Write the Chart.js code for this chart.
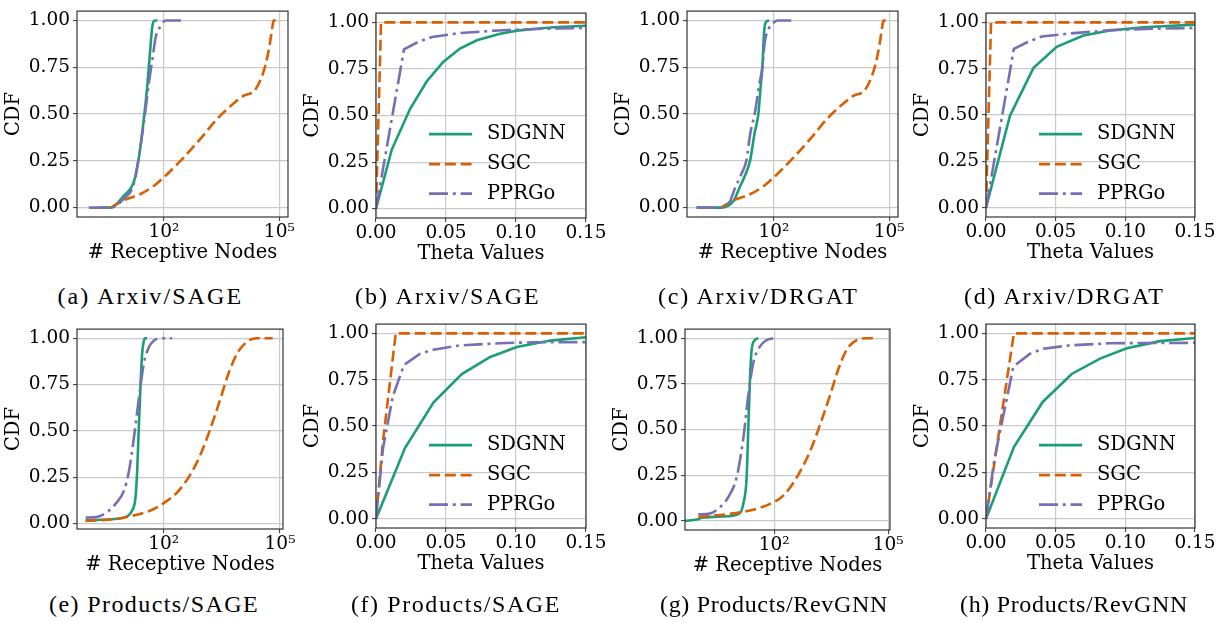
<!DOCTYPE html>
<html><head><meta charset="utf-8">
<script src="https://cdn.jsdelivr.net/npm/chart.js@4.4.1/dist/chart.umd.min.js"></script>
<style>
html,body{margin:0;padding:0;background:#fff;width:1219px;height:622px;overflow:hidden;}
.pc{position:absolute;}
.cap{position:absolute;font-family:"Liberation Serif",serif;font-size:24px;line-height:24px;white-space:nowrap;color:#000;}
</style></head><body>
<script>
// ---------- series names ----------
const seriesNames = ['SDGNN', 'SGC', 'PPRGo'];
const yTickValues = [0, 0.25, 0.5, 0.75, 1.0];
const logTickValues = [100, 100000];
const logTickLabels = ['10\u00B2', '10\u2075'];
const thetaTickValues = [0, 0.05, 0.10, 0.15];
const captions = ['(a) Arxiv/SAGE', '(b) Arxiv/SAGE', '(c) Arxiv/DRGAT', '(d) Arxiv/DRGAT',
                  '(e) Products/SAGE', '(f) Products/SAGE', '(g) Products/RevGNN', '(h) Products/RevGNN'];

// ---------- (a) Arxiv/SAGE : # receptive nodes ----------
const aSdgnnX = [2.0, 4.1, 9.1, 16.5, 22.3, 30.1, 36.7, 43.2, 49.7, 57.1, 67.0];
const aSdgnnY = [0, 0, 0.065, 0.14, 0.27, 0.48, 0.65, 0.83, 0.97, 1.0, 1.0];
const aSgcX = [4.1, 9.1, 24.5, 55, 122, 331, 906, 2455, 6761, 12300, 22400, 40700, 55000, 67600, 70800, 107000];
const aSgcY = [0, 0.04, 0.073, 0.117, 0.18, 0.27, 0.37, 0.476, 0.56, 0.6, 0.624, 0.74, 0.86, 0.98, 1.0, 1.0];
const aPprX = [1.1, 4.1, 9.1, 16.5, 30.1, 40.6, 49.7, 60.7, 81.8, 110, 331];
const aPprY = [0, 0, 0.05, 0.13, 0.46, 0.67, 0.79, 0.91, 0.97, 1.0, 1.0];

// ---------- (b) Arxiv/SAGE : theta ----------
const bSdgnnX = [0, 0.0112, 0.0243, 0.0363, 0.0482, 0.060, 0.072, 0.0887, 0.1006, 0.1126, 0.127, 0.15];
const bSdgnnY = [0, 0.316, 0.535, 0.684, 0.789, 0.86, 0.904, 0.939, 0.956, 0.965, 0.974, 0.982];
const bSgcX = [0, 0.0036, 0.15];
const bSgcY = [0, 1.0, 1.0];
const bPprX = [0, 0.02, 0.03, 0.04, 0.06, 0.09, 0.12, 0.15];
const bPprY = [0, 0.855, 0.895, 0.922, 0.943, 0.958, 0.966, 0.97];

// ---------- (c) Arxiv/DRGAT : # receptive nodes ----------
const cSdgnnX = [0.96, 4.06, 9.06, 12.2, 18.2, 23.7, 31.3, 39.0, 44.9, 49.7, 54.8, 60.7, 74.1];
const cSdgnnY = [0, 0, 0.04, 0.1, 0.18, 0.25, 0.4, 0.5, 0.65, 0.75, 0.93, 0.99, 1.0];
const cSgcX = [4.1, 9.1, 24.5, 55, 122, 331, 906, 2455, 6761, 12300, 22400, 40700, 55000, 67600, 70800, 107000];
const cSgcY = [0, 0.04, 0.073, 0.117, 0.18, 0.27, 0.37, 0.476, 0.56, 0.6, 0.624, 0.74, 0.86, 0.98, 1.0, 1.0];
const cPprX = [0.96, 4.06, 6.97, 9.42, 14.1, 19.0, 24.2, 31.3, 40.6, 49.7, 57.1, 74.1, 100, 122, 332];
const cPprY = [0, 0, 0.03, 0.1, 0.18, 0.25, 0.4, 0.5, 0.65, 0.75, 0.88, 0.96, 0.99, 1.0, 1.0];

// ---------- (d) Arxiv/DRGAT : theta ----------
const dSdgnnX = [0, 0.0172, 0.034, 0.0507, 0.0699, 0.089, 0.113, 0.15];
const dSdgnnY = [0, 0.497, 0.753, 0.868, 0.929, 0.956, 0.974, 0.988];
const dSgcX = [0, 0.0036, 0.15];
const dSgcY = [0, 1.0, 1.0];
const dPprX = [0, 0.02, 0.03, 0.04, 0.06, 0.09, 0.12, 0.15];
const dPprY = [0, 0.857, 0.894, 0.924, 0.94, 0.958, 0.966, 0.97];

// ---------- (e) Products/SAGE : # receptive nodes ----------
const eSdgnnX = [0.97, 2.36, 6.31, 11.4, 15.3, 18.7, 20.6, 22.7, 25.1, 27.7, 30.6, 33.8, 37.2];
const eSdgnnY = [0.018, 0.02, 0.026, 0.039, 0.07, 0.14, 0.28, 0.51, 0.74, 0.915, 0.985, 1.0, 1.0];
const eSgcX = [0.97, 6.31, 16.9, 45.4, 100, 220, 485, 877, 1585, 2864, 4688, 7691, 13900, 25100, 64600];
const eSgcY = [0.014, 0.026, 0.044, 0.07, 0.11, 0.167, 0.264, 0.37, 0.51, 0.67, 0.81, 0.915, 0.98, 1.0, 1.0];
const ePprX = [0.97, 1.93, 3.49, 5.71, 9.38, 12.6, 16.9, 20.6, 25.1, 30.6, 41.1, 55.3, 82.0, 164];
const ePprY = [0.032, 0.036, 0.062, 0.106, 0.176, 0.28, 0.458, 0.6, 0.74, 0.863, 0.95, 0.986, 1.0, 1.0];

// ---------- (f) Products/SAGE : theta ----------
const fSdgnnX = [0, 0.0207, 0.041, 0.0613, 0.0816, 0.1006, 0.1245, 0.15];
const fSdgnnY = [0, 0.381, 0.627, 0.78, 0.873, 0.926, 0.961, 0.979];
const fSgcX = [0, 0.005, 0.0141, 0.15];
const fSgcY = [0, 0.42, 1.0, 1.0];
const fPprX = [0, 0.005, 0.012, 0.02, 0.0315, 0.041, 0.06, 0.0887, 0.1126, 0.15];
const fPprY = [0, 0.38, 0.66, 0.83, 0.89, 0.912, 0.935, 0.947, 0.952, 0.953];

// ---------- (g) Products/RevGNN : # receptive nodes ----------
const gSdgnnX = [0.45, 0.904, 1.36, 5.57, 12.5, 15.3, 18.7, 20.7, 22.9, 25.4, 31.0, 37.9];
const gSdgnnY = [0.0, 0.007, 0.018, 0.025, 0.043, 0.093, 0.237, 0.506, 0.776, 0.937, 0.99, 1.0];
const gSgcX = [1.0, 5.57, 22.9, 76.9, 173, 387, 869, 1585, 2917, 4831, 8017, 14690, 26900, 48980];
const gSgcY = [0.022, 0.036, 0.057, 0.093, 0.138, 0.237, 0.38, 0.524, 0.686, 0.83, 0.937, 0.99, 1.0, 1.0];
const gPprX = [1.0, 2.03, 3.72, 6.15, 10.2, 15.3, 20.7, 28.0, 42.0, 62.8, 94.2];
const gPprY = [0.036, 0.04, 0.075, 0.13, 0.237, 0.452, 0.686, 0.865, 0.955, 0.99, 1.0];

// ---------- (h) Products/RevGNN : theta ----------
const hSdgnnX = [0, 0.0201, 0.0407, 0.0615, 0.0818, 0.101, 0.1249, 0.15];
const hSdgnnY = [0, 0.388, 0.63, 0.781, 0.864, 0.92, 0.958, 0.975];
const hSgcX = [0, 0.02, 0.15];
const hSgcY = [0, 1.0, 1.0];
const hPprX = [0, 0.006, 0.0196, 0.0316, 0.041, 0.06, 0.089, 0.15];
const hPprY = [0, 0.32, 0.82, 0.89, 0.917, 0.935, 0.947, 0.949];

// ---------- layout (positions / styles only) ----------
const COLORS = ['#1b9e77', '#d95f02', '#7570b3'];
const DASHES = [[], [11, 4.8], [19, 4.8, 3, 4.8]];
const FONT = '"DejaVu Serif", serif';

// cap: [centerX, width, top] of caption text
const panels = [
  {kind:'nodes', box:[77,7,288,217],   xr:[0.545,168000], yr:[-0.05,1.05],  s:[[aSdgnnX,aSdgnnY],[aSgcX,aSgcY],[aPprX,aPprY]], cap:[151,187,284]},
  {kind:'theta', box:[376,9,586,218],  xr:[0,0.15],       yr:[-0.05,1.05],  s:[[bSdgnnX,bSdgnnY],[bSgcX,bSgcY],[bPprX,bPprY]], cap:[448.5,187,284]},
  {kind:'nodes', box:[687,7,898,217],  xr:[0.54,170000],  yr:[-0.05,1.05],  s:[[cSdgnnX,cSdgnnY],[cSgcX,cSgcY],[cPprX,cPprY]], cap:[759,202,284]},
  {kind:'theta', box:[986,9,1195,217], xr:[0,0.15],       yr:[-0.05,1.05],  s:[[dSdgnnX,dSdgnnY],[dSgcX,dSgcY],[dPprX,dPprY]], cap:[1065,202,284]},
  {kind:'nodes', box:[77,325,283,529], xr:[0.58,119000],  yr:[-0.0295,1.049], s:[[eSdgnnX,eSdgnnY],[eSgcX,eSgcY],[ePprX,ePprY]], cap:[154,210,592]},
  {kind:'theta', box:[376,320,586,528],xr:[0,0.15],       yr:[-0.05,1.05],  s:[[fSdgnnX,fSdgnnY],[fSgcX,fSgcY],[fPprX,fPprY]], cap:[456,210,592]},
  {kind:'nodes', box:[685,325,890,530],xr:[0.447,110900], yr:[-0.05,1.05],  s:[[gSdgnnX,gSdgnnY],[gSgcX,gSgcY],[gPprX,gPprY]], cap:[774,228,592]},
  {kind:'theta', box:[986,320,1195,528],xr:[0,0.15],      yr:[-0.05,1.05],  s:[[hSdgnnX,hSdgnnY],[hSgcX,hSgcY],[hPprX,hPprY]], cap:[1074,228,592]}
];

const spinePlugin = {
  id: 'spines',
  afterDatasetsDraw(chart) {
    const ca = chart.chartArea, ctx = chart.ctx;
    ctx.save();
    ctx.strokeStyle = '#333';
    ctx.lineWidth = 1.2;
    ctx.setLineDash([]);
    ctx.strokeRect(ca.left, ca.top, ca.right - ca.left, ca.bottom - ca.top);
    ctx.restore();
  }
};

const inLegendPlugin = {
  id: 'inLegend',
  afterDraw(chart) {
    const ca = chart.chartArea, ctx = chart.ctx;
    const rows = [121, 151, 180.5];
    ctx.save();
    chart.data.datasets.forEach((ds, i) => {
      const y = ca.top + rows[i];
      ctx.strokeStyle = ds.borderColor;
      ctx.lineWidth = ds.borderWidth;
      ctx.lineCap = 'butt';
      ctx.setLineDash(ds.borderDash || []);
      ctx.beginPath();
      ctx.moveTo(ca.left + 53, y);
      ctx.lineTo(ca.left + 96, y);
      ctx.stroke();
      ctx.setLineDash([]);
      ctx.fillStyle = '#000';
      ctx.font = '19.5px ' + FONT;
      ctx.textBaseline = 'middle';
      ctx.textAlign = 'left';
      ctx.fillText(ds.label, ca.left + 111, y);
    });
    ctx.restore();
  }
};

const yW = 76, padT = 10, padR = 26, xH = 50;
const measureCtx = document.createElement('canvas').getContext('2d');
measureCtx.font = '24px "Liberation Serif", serif';

panels.forEach((p, k) => {
  const [l, t, r, b] = p.box;
  const W = r - l + yW + padR, H = b - t + padT + xH;
  const div = document.createElement('div');
  div.className = 'pc';
  div.style.left = (l - yW) + 'px';
  div.style.top = (t - padT) + 'px';
  div.style.width = W + 'px';
  div.style.height = H + 'px';
  const cv = document.createElement('canvas');
  cv.width = W; cv.height = H;
  cv.style.width = W + 'px'; cv.style.height = H + 'px';
  div.appendChild(cv);
  document.body.appendChild(div);

  const isLog = p.kind === 'nodes';
  const xTicks = isLog ? logTickValues : thetaTickValues;
  const datasets = p.s.map((pair, i) => ({
    label: seriesNames[i],
    data: pair[0].map((x, j) => ({x: x, y: pair[1][j]})),
    borderColor: COLORS[i],
    backgroundColor: COLORS[i],
    borderWidth: 2.6,
    borderDash: DASHES[i],
    borderCapStyle: 'butt',
    pointRadius: 0,
    fill: false,
    tension: 0,
    cubicInterpolationMode: isLog ? 'monotone' : 'default',
    order: 3 - i
  }));

  new Chart(cv, {
    type: 'line',
    data: {datasets},
    options: {
      responsive: false,
      animation: false,
      events: [],
      layout: {padding: {left: 0, top: padT, right: padR, bottom: 0}},
      plugins: {legend: {display: false}, tooltip: {enabled: false}},
      scales: {
        x: {
          type: isLog ? 'logarithmic' : 'linear',
          position: 'bottom',
          min: p.xr[0], max: p.xr[1],
          grid: {color: '#c9c9c9', lineWidth: 1.2, drawTicks: true, tickLength: 4, tickColor: '#333', tickWidth: 1},
          border: {display: false},
          ticks: {
            font: {family: FONT, size: 18.5}, color: '#000', padding: 0, maxRotation: 0, autoSkip: false,
            callback: (v, idx) => isLog ? logTickLabels[idx] : Number(v).toFixed(2)
          },
          afterBuildTicks: sc => { sc.ticks = xTicks.map(v => ({value: v})); },
          afterFit: sc => { sc.height = xH; },
          title: {display: true, text: isLog ? '# Receptive Nodes' : 'Theta Values',
                  font: {family: FONT, size: 19.5}, color: '#000', padding: {top: 0, bottom: 2}}
        },
        y: {
          type: 'linear',
          min: p.yr[0], max: p.yr[1],
          grid: {color: '#c9c9c9', lineWidth: 1.2, drawTicks: true, tickLength: 4, tickColor: '#333', tickWidth: 1},
          border: {display: false},
          ticks: {font: {family: FONT, size: 18.5}, color: '#000', padding: 3,
                  callback: v => Number(v).toFixed(2)},
          afterBuildTicks: sc => { sc.ticks = yTickValues.map(v => ({value: v})); },
          afterFit: sc => { sc.width = yW; },
          title: {display: true, text: 'CDF', font: {family: FONT, size: 19.5}, color: '#000',
                  padding: {top: 1, bottom: 0}}
        }
      }
    },
    plugins: isLog ? [spinePlugin] : [spinePlugin, inLegendPlugin]
  });

  // caption: spread its text over the span the reference caption occupies
  const txt = captions[k];
  const natural = measureCtx.measureText(txt).width;
  const target = p.cap[1];
  const ls = (target - natural) / txt.length;
  const cap = document.createElement('div');
  cap.className = 'cap';
  cap.textContent = txt;
  cap.style.letterSpacing = ls.toFixed(2) + 'px';
  cap.style.left = (p.cap[0] - target / 2) + 'px';
  cap.style.top = p.cap[2] + 'px';
  document.body.appendChild(cap);
});
</script>
</body></html>
